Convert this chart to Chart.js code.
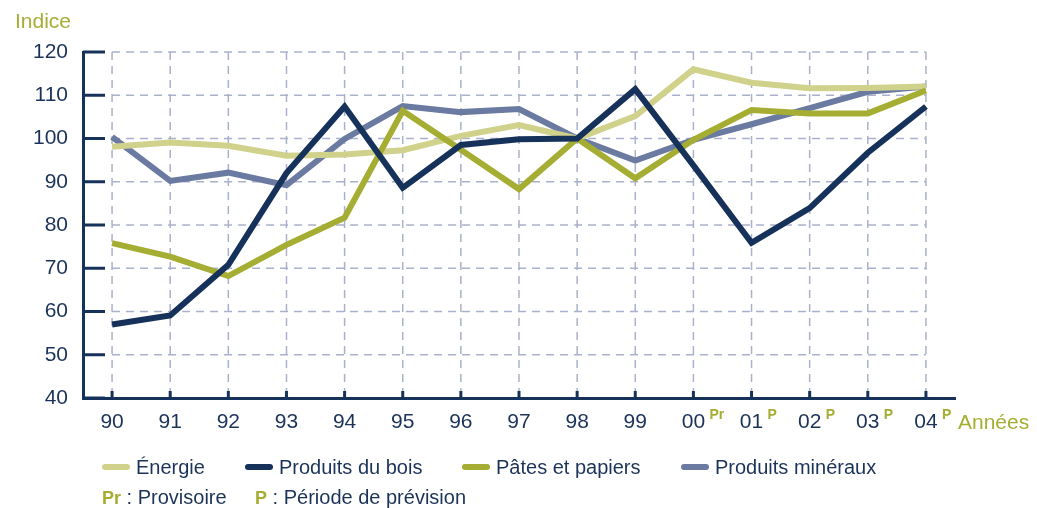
<!DOCTYPE html>
<html>
<head>
<meta charset="utf-8">
<script src="https://cdn.jsdelivr.net/npm/chart.js@4"></script>
<style>
  body { margin: 0; background: #fff; }
  #wrap { position: relative; width: 1037px; height: 508px; font-family: "Liberation Sans", Arial, Helvetica, sans-serif; color: #1b3358; }
  canvas { position: absolute; left: 0; top: 0; }
  .txt { position: absolute; white-space: nowrap; line-height: 1; }
  .olive { color: #a5ae33; }
  .mark { position: absolute; width: 28px; height: 6px; border-radius: 3px; }
</style>
</head>
<body>
<div id="wrap">
  <canvas id="chart" width="1037" height="508"></canvas>
  <div class="txt olive" style="left:15px; top:10px; font-size:21px;">Indice</div>
  <div class="txt olive" style="left:958px; top:411px; font-size:21px;">Années</div>
  <div id="legend"></div>
  <div class="txt" style="left:102px; top:487px; font-size:20px;"><b class="olive" style="font-size:18px;">Pr</b> : Provisoire</div>
  <div class="txt" style="left:255px; top:487px; font-size:20px;"><b class="olive" style="font-size:18px;">P</b> : Période de prévision</div>
</div>
<script>
const labels = ['90', '91', '92', '93', '94', '95', '96', '97', '98', '99', '00', '01', '02', '03', '04'];
const notes = ['', '', '', '', '', '', '', '', '', '', 'Pr', 'P', 'P', 'P', 'P'];

const energie = [98.1, 99.1, 98.3, 96.0, 96.3, 97.3, 100.6, 103.1, 100, 105.2, 116.0, 112.9, 111.6, 111.7, 112.0];
const bois = [57.0, 59.1, 70.8, 92.0, 107.4, 88.6, 98.5, 99.8, 100, 111.4, 93.8, 75.9, 83.9, 96.7, 107.4];
const pates = [75.8, 72.7, 68.2, 75.4, 81.7, 106.4, 97.4, 88.3, 100, 90.8, 99.7, 106.6, 105.8, 105.8, 111.1];
const mineraux = [100.4, 90.2, 92.1, 89.2, 99.9, 107.5, 106.1, 106.8, 100, 94.9, 99.7, 103.3, 107.0, 110.8, 112.0];

const navy = '#17325a';
const olive = '#a5ae33';
const gridColor = '#aab1cc';

const series = [
    { label: 'Énergie', data: energie, color: '#d0d18b', legendX: 102 },
    { label: 'Produits du bois', data: bois, color: navy, legendX: 245 },
    { label: 'Pâtes et papiers', data: pates, color: olive, legendX: 462 },
    { label: 'Produits minéraux', data: mineraux, color: '#6a7aa0', legendX: 681 }
];
// drawing order, top first
const drawOrder = [1, 2, 0, 3];

// legend in html
let legend = document.getElementById('legend');
series.forEach(s => {
    let m = document.createElement('div');
    m.className = 'mark';
    m.style.left = s.legendX + 'px';
    m.style.top = '464px';
    m.style.background = s.color;
    legend.appendChild(m);
    let t = document.createElement('div');
    t.className = 'txt';
    t.style.left = (s.legendX + 34) + 'px';
    t.style.top = '457px';
    t.style.fontSize = '20px';
    t.textContent = s.label;
    legend.appendChild(t);
});

const gridPlugin = {
    id: 'dashGrid',
    beforeDatasetsDraw(chart) {
        let ctx = chart.ctx;
        let x = chart.scales.x, y = chart.scales.y;
        let x0 = x.getPixelForValue(0), x1 = x.getPixelForValue(labels.length - 1);
        ctx.save();
        ctx.strokeStyle = gridColor;
        ctx.lineWidth = 1.5;
        ctx.setLineDash([8, 6]);
        y.ticks.forEach(t => {
            let py = y.getPixelForValue(t.value);
            if (t.value === y.min) return;
            ctx.beginPath();
            ctx.moveTo(x0, py);
            ctx.lineTo(x1, py);
            ctx.stroke();
        });
        labels.forEach((l, i) => {
            let px = x.getPixelForValue(i);
            ctx.beginPath();
            ctx.moveTo(px, y.top);
            ctx.lineTo(px, y.bottom - 6);
            ctx.stroke();
        });
        ctx.setLineDash([]);
        ctx.strokeStyle = navy;
        ctx.lineWidth = 3;
        y.ticks.forEach(t => {
            let py = y.getPixelForValue(t.value);
            ctx.beginPath();
            ctx.moveTo(y.right, py);
            ctx.lineTo(y.right + 22, py);
            ctx.stroke();
        });
        labels.forEach((l, i) => {
            let px = x.getPixelForValue(i);
            ctx.beginPath();
            ctx.moveTo(px, x.top);
            ctx.lineTo(px, x.top - 7);
            ctx.stroke();
        });
        ctx.restore();
    },
    afterDraw(chart) {
        let ctx = chart.ctx;
        let x = chart.scales.x;
        ctx.save();
        ctx.fillStyle = olive;
        ctx.font = 'bold 14px "Liberation Sans", Arial, sans-serif';
        ctx.textBaseline = 'top';
        notes.forEach((n, i) => {
            if (!n) return;
            let px = x.getPixelForValue(i);
            ctx.fillText(n, px + 16, x.top + 10);
        });
        ctx.restore();
    }
};

new Chart(document.getElementById('chart'), {
    type: 'line',
    data: {
        labels: labels,
        datasets: drawOrder.map(k => ({
            label: series[k].label,
            data: series[k].data,
            borderColor: series[k].color,
            backgroundColor: series[k].color,
            borderWidth: 6,
            pointRadius: 0,
            tension: 0,
            borderJoinStyle: 'miter',
            fill: false
        }))
    },
    options: {
        responsive: false,
        devicePixelRatio: 1,
        animation: false,
        layout: { padding: { left: 0, top: 52, right: 82, bottom: 0 } },
        plugins: { legend: { display: false }, tooltip: { enabled: false } },
        scales: {
            x: {
                type: 'category',
                offset: true,
                grid: { display: false },
                border: { display: true, color: navy, width: 3 },
                ticks: {
                    color: '#1b3358',
                    font: { family: '"Liberation Sans", Arial, sans-serif', size: 21 },
                    padding: 4,
                    maxRotation: 0,
                    autoSkip: false
                },
                afterFit: s => { s.height = 110; }
            },
            y: {
                min: 40,
                max: 120,
                grid: { display: false },
                border: { display: true, color: navy, width: 3 },
                ticks: {
                    stepSize: 10,
                    color: '#1b3358',
                    font: { family: '"Liberation Sans", Arial, sans-serif', size: 21 },
                    padding: 7
                },
                afterFit: s => { s.width = 83; }
            }
        }
    },
    plugins: [gridPlugin]
});
</script>
</body>
</html>
